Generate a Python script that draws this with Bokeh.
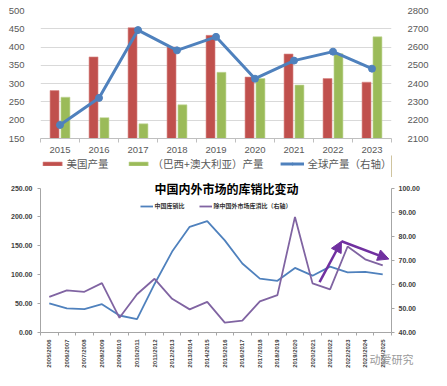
import math
import numpy as np
from bokeh.plotting import figure
from bokeh.models import (Range1d, LinearAxis, FixedTicker, Legend, LegendItem, Label,
                          Arrow, NormalHead, NumeralTickFormatter)
from bokeh.layouts import column
from bokeh.embed import file_html
from bokeh.resources import INLINE

# ---------------- data: top chart ----------------
years = ["2015", "2016", "2017", "2018", "2019", "2020", "2021", "2022", "2023"]
us_output = [281, 373, 453, 400, 432, 318, 381, 314, 304]
br_au_output = [263, 207, 190, 242, 331, 314, 296, 382, 428]
global_output = [2174, 2322, 2693, 2582, 2656, 2427, 2526, 2575, 2482]
left_ticks_top = [150, 200, 250, 300, 350, 400, 450, 500]
right_ticks_top = [2100, 2200, 2300, 2400, 2500, 2600, 2700, 2800]

# ---------------- data: bottom chart ----------------
seasons = ["2005/2006", "2006/2007", "2007/2008", "2008/2009", "2009/2010", "2010/2011",
           "2011/2012", "2012/2013", "2013/2014", "2014/2015", "2015/2016", "2016/2017",
           "2017/2018", "2018/2019", "2019/2020", "2020/2021", "2021/2022", "2022/2023",
           "2023/2024", "2024/2025"]
china_ratio = [50.5, 41.7, 40.6, 48.9, 29.4, 23.3, 84.0, 140.0, 182.8, 192.8, 159.4, 119.4,
               93.3, 89.4, 111.7, 98.3, 113.9, 103.9, 105.0, 100.6]
ex_china_ratio = [54.8, 57.5, 56.9, 60.5, 46.1, 55.9, 62.3, 54.0, 49.6, 52.7, 44.1, 44.9,
                  52.9, 55.5, 88.0, 60.4, 57.9, 75.7, 70.4, 67.9]
left_ticks_bot = [0, 50, 100, 150, 200, 250]
right_ticks_bot = [40, 50, 60, 70, 80, 90, 100]
# annotation arrows (x in category units, y on right axis): x0, y0, x1, y1
arrow_segments = [(15.9, 60.9, 17.15, 77.9), (17.15, 77.9, 19.85, 70.5)]
watermark = "动爱研究"

CJK = "Noto Sans CJK SC"
NUM = "Liberation Sans"
RED, GREEN, BLUE, PURPLE = "#C0504D", "#9BBB59", "#4F81BD", "#8064A2"

# ================= top chart (431 x 155) =================
n1 = len(years)
x1 = np.arange(n1) + 0.5
base_top = left_ticks_top[0]

p1 = figure(width=431, height=155, x_range=Range1d(0, n1),
            y_range=Range1d(left_ticks_top[0], left_ticks_top[-1]),
            output_backend="svg", toolbar_location=None,
            min_border_left=38, min_border_right=38, min_border_top=10, min_border_bottom=17)
p1.extra_y_ranges = {"right": Range1d(right_ticks_top[0], right_ticks_top[-1])}
p1.outline_line_color = None

p1.vbar(x=x1 - 0.14, top=us_output, bottom=base_top, width=0.23,
        fill_color=RED, line_color="#D98A88", line_width=0.6)
p1.vbar(x=x1 + 0.14, top=br_au_output, bottom=base_top, width=0.23,
        fill_color=GREEN, line_color="#C3D69B", line_width=0.6)
p1.line(x1, global_output, y_range_name="right", line_color=BLUE, line_width=3)
p1.scatter(x1, global_output, y_range_name="right", size=7, fill_color=BLUE, line_color=BLUE)

xa = p1.xaxis[0]
xa.ticker = FixedTicker(ticks=list(x1), minor_ticks=list(range(n1 + 1)))
xa.major_label_overrides = {float(v): lab for v, lab in zip(x1, years)}
xa.major_tick_line_color = None
xa.major_tick_out = 0
xa.major_tick_in = 0
xa.minor_tick_line_color = "#BFBFBF"
xa.minor_tick_out = 4
xa.minor_tick_in = 0
xa.axis_line_color = "#BFBFBF"
xa.major_label_standoff = 4
xa.major_label_text_font = NUM
xa.major_label_text_font_size = "9.5px"
xa.major_label_text_color = "#595959"

ya = p1.yaxis[0]
ya.ticker = FixedTicker(ticks=left_ticks_top)
ya.axis_line_color = None
ya.major_tick_line_color = None
ya.minor_tick_line_color = None
ya.major_label_standoff = 10
ya.major_label_text_font = NUM
ya.major_label_text_font_size = "9.5px"
ya.major_label_text_color = "#595959"

ra = LinearAxis(y_range_name="right", ticker=FixedTicker(ticks=right_ticks_top))
ra.axis_line_color = None
ra.major_tick_line_color = None
ra.minor_tick_line_color = None
ra.major_label_standoff = 10
ra.major_label_text_font = NUM
ra.major_label_text_font_size = "9.5px"
ra.major_label_text_color = "#595959"
p1.add_layout(ra, "right")

p1.xgrid.grid_line_color = None
p1.ygrid.ticker = FixedTicker(ticks=left_ticks_top)
p1.ygrid.grid_line_color = "#D9D9D9"

# ---- legend strip for the top chart (431 x 22) ----
pl = figure(width=431, height=22, x_range=Range1d(0, 1), y_range=Range1d(0, 1),
            x_axis_type=None, y_axis_type=None, output_backend="svg", toolbar_location=None,
            min_border_left=0, min_border_right=0, min_border_top=0, min_border_bottom=0)
pl.outline_line_color = None
pl.grid.grid_line_color = None
# legend-only renderers: their single point lies outside the visible range
off = [5.0]
g_us = pl.vbar(x=off, top=off, width=0.1, fill_color=RED, line_color="#D98A88", line_width=0.6)
g_br = pl.vbar(x=off, top=off, width=0.1, fill_color=GREEN, line_color="#C3D69B", line_width=0.6)
g_ln = pl.line(x=off, y=off, line_color=BLUE, line_width=3)
g_mk = pl.scatter(x=off, y=off, size=7, fill_color=BLUE, line_color=BLUE)
leg1 = Legend(items=[LegendItem(label="美国产量", renderers=[g_us]),
                     LegendItem(label="（巴西+澳大利亚）产量", renderers=[g_br]),
                     LegendItem(label="全球产量（右轴）", renderers=[g_ln, g_mk])],
              orientation="horizontal", location="top_center", margin=1, padding=2,
              spacing=17, glyph_width=24, glyph_height=5, label_standoff=3,
              label_height=10, label_text_font=CJK, label_text_font_size="10.5px",
              label_text_color="#595959", border_line_color=None, background_fill_alpha=0)
pl.add_layout(leg1, "center")

# ================= bottom chart (431 x 193) =================
n2 = len(seasons)
x2 = np.arange(n2) + 0.5
# frame: top at 2px, value 250 at 10.5px, value 0 at 155px (figure pixels)
head = 8.5 / 144.5
y_top2 = left_ticks_bot[-1] + head * (left_ticks_bot[-1] - left_ticks_bot[0])
r_top2 = right_ticks_bot[-1] + head * (right_ticks_bot[-1] - right_ticks_bot[0])

p2 = figure(width=431, height=193, x_range=Range1d(0, n2),
            y_range=Range1d(left_ticks_bot[0], y_top2),
            output_backend="svg", toolbar_location=None,
            min_border_left=40, min_border_right=34, min_border_top=2, min_border_bottom=38)
p2.extra_y_ranges = {"right": Range1d(right_ticks_bot[0], r_top2)}
p2.outline_line_color = None
p2.xgrid.grid_line_color = None
p2.ygrid.grid_line_color = None

r_cn = p2.line(x2, china_ratio, line_color=BLUE, line_width=1.8)
r_ex = p2.line(x2, ex_china_ratio, y_range_name="right", line_color=PURPLE, line_width=1.8)

xb = p2.xaxis[0]
xb.ticker = FixedTicker(ticks=list(x2), minor_ticks=list(range(n2 + 1)))
xb.major_label_overrides = {float(v): lab for v, lab in zip(x2, seasons)}
xb.major_label_orientation = math.pi / 2
xb.major_tick_line_color = None
xb.major_tick_out = 0
xb.major_tick_in = 0
xb.minor_tick_line_color = "#A6A6A6"
xb.minor_tick_out = 3
xb.minor_tick_in = 0
xb.axis_line_color = "#A6A6A6"
xb.major_label_standoff = 4
xb.major_label_text_font = NUM
xb.major_label_text_font_style = "bold"
xb.major_label_text_font_size = "6px"
xb.major_label_text_color = "#404040"
# watermark drawn as the axis title, overlapping the lower end of the tick labels
xb.axis_label = watermark
xb.axis_label_standoff = -20
xb.axis_label_text_font = CJK
xb.axis_label_text_font_style = "normal"
xb.axis_label_text_font_size = "11px"
xb.axis_label_text_color = "#9A9A9A"
xb.axis_label_align = "end"

yb = p2.yaxis[0]
yb.bounds = (left_ticks_bot[0], left_ticks_bot[-1])
yb.ticker = FixedTicker(ticks=left_ticks_bot)
yb.formatter = NumeralTickFormatter(format="0.00")
yb.axis_line_color = "#A6A6A6"
yb.major_tick_line_color = "#A6A6A6"
yb.major_tick_out = 3
yb.major_tick_in = 0
yb.minor_tick_line_color = None
yb.major_label_standoff = 5
yb.major_label_text_font = NUM
yb.major_label_text_font_style = "bold"
yb.major_label_text_font_size = "7px"
yb.major_label_text_color = "#404040"

rb = LinearAxis(y_range_name="right", ticker=FixedTicker(ticks=right_ticks_bot),
                formatter=NumeralTickFormatter(format="0.00"))
rb.bounds = (right_ticks_bot[0], right_ticks_bot[-1])
rb.axis_line_color = "#A6A6A6"
rb.major_tick_line_color = "#A6A6A6"
rb.major_tick_out = 3
rb.major_tick_in = 0
rb.minor_tick_line_color = None
rb.major_label_standoff = 4
rb.major_label_text_font = NUM
rb.major_label_text_font_style = "bold"
rb.major_label_text_font_size = "7px"
rb.major_label_text_color = "#404040"
p2.add_layout(rb, "right")

for (ax0, ay0, ax1, ay1) in arrow_segments:
    p2.add_layout(Arrow(x_start=ax0, y_start=ay0, x_end=ax1, y_end=ay1, y_range_name="right",
                        line_color="#7030A0", line_width=2.5,
                        end=NormalHead(size=11, fill_color="#7030A0", line_color="#7030A0")))

leg2 = Legend(items=[LegendItem(label="中国库销比", renderers=[r_cn]),
                     LegendItem(label="除中国外市场库消比（右轴）", renderers=[r_ex])],
              orientation="horizontal", location="top_center", margin=22, padding=0,
              spacing=14, glyph_width=13, glyph_height=8, label_standoff=2, label_height=8,
              label_text_font=CJK, label_text_font_style="bold", label_text_font_size="6px",
              label_text_color="#333333", border_line_color=None, background_fill_alpha=0)
p2.add_layout(leg2, "center")

p2.add_layout(Label(x=10.6, y=248.3, text="中国内外市场的库销比变动", text_align="center",
                    text_baseline="middle", text_font=CJK, text_font_style="bold",
                    text_font_size="12px", text_color="#000000"))

layout = column(p1, pl, p2, spacing=0)
open("out.html", "w").write(file_html(layout, INLINE))
